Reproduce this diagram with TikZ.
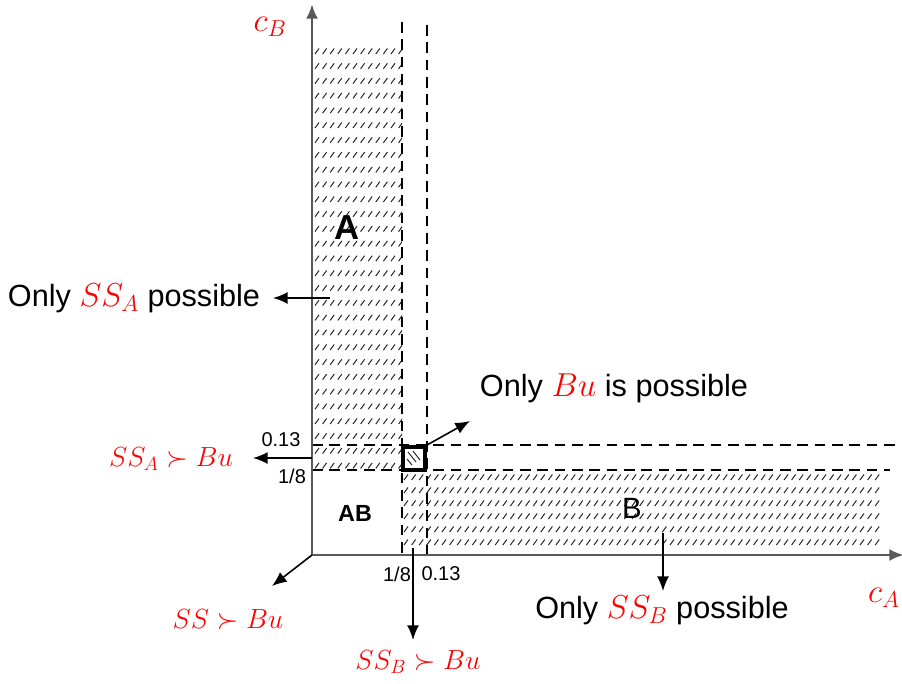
\documentclass[tikz,border=0pt]{standalone}
\usepackage{fontspec}
\setmainfont{Liberation Sans}
\usetikzlibrary{arrows.meta}

\begin{document}
\begin{tikzpicture}[
  x=0.75pt,
  y=-0.75pt,
  >=Latex,
  axis/.style={draw=black!65,line width=2.1pt,-{Latex[length=11pt,width=9pt]}},
  bound/.style={draw=black,line width=1.1pt,dash pattern=on 8pt off 5pt},
  arrow/.style={draw=black,line width=1.2pt,-{Latex[length=11pt,width=9pt]}},
  hatch/.style={draw=black!85,line width=0.75pt},
  txt/.style={font=\fontsize{23}{27}\selectfont,inner sep=1pt},
  mtxt/.style={text=red,font=\fontsize{22.5}{26}\selectfont,inner sep=1pt},
  axlbl/.style={text=red,font=\fontsize{26}{30}\selectfont,inner sep=1pt},
  tick/.style={font=\fontsize{15}{17}\selectfont,inner sep=1pt}
]
\useasboundingbox (0,0) rectangle (902,684);

% hatched region A (left column)
\begin{scope}
  \clip (313,45) rectangle (402,471);
  \foreach \r in {0,...,28}{
    \foreach \c in {0,...,11}{
      \draw[hatch] ({315+\c*7.6},{54+\r*14.8}) -- ++(4,-5.5);
    }
  }
\end{scope}

% hatched region B (bottom strip)
\begin{scope}
  \clip (402,472) rectangle (880,553);
  \foreach \r in {0,...,5}{
    \foreach \c in {0,...,62}{
      \draw[hatch] ({404+\c*7.6},{480+\r*13})  -- ++(4,-5.5);
    }
  }
\end{scope}

% thresholds
\draw[bound] (402,22) -- (402,555);
\draw[bound] (427,25) -- (427,555);
\draw[bound] (312,445) -- (895,445);
\draw[bound] (312,470) -- (890,470);

% axes
\coordinate (O) at (312,555);
\draw[axis] (O) -- (312,4) coordinate (ytip);
\draw[axis] (O) -- (904,555) coordinate (xtip);
\node[axlbl] (cB) at (270,27) {$c_B$};
\node[axlbl] (cA) at (884,598) {$c_A$};

% small square where only Bu is possible
\draw[draw=black,line width=3.6pt] (403,447) rectangle (425,470);
\draw[hatch] (408,452) -- (416,462);
\draw[hatch] (413,451) -- (420,460);
\draw[hatch] (407,459) -- (412,465);
\coordinate (sq) at (427,445);

% region names
\node[font=\fontsize{26}{30}\selectfont\bfseries] (regA) at (347,228) {A};
\node[font=\fontsize{17.5}{20}\selectfont\bfseries] (regAB) at (355,513) {AB};
\node[font=\fontsize{22}{26}\selectfont] (regB) at (632,508) {B};

% tick labels
\node[tick] (t13y) at (281,440) {0.13};
\node[tick] (t18y) at (292,476) {1/8};
\node[tick] (t18x) at (397,574) {1/8};
\node[tick] (t13x) at (441,574) {0.13};

% annotations
\node[txt] (onlySSA) at (134,298) {Only \textcolor{red}{$SS_A$} possible};
\coordinate (pA) at (330,298);
\draw[arrow] (pA) -- (273,298);

\node[txt] (onlyBu) at (614,388) {Only \textcolor{red}{$Bu$} is possible};
\draw[arrow] (sq) -- (470,421);

\node[mtxt] (SSAgt) at (171,459) {$SS_A\succ Bu$};
\coordinate (pAB) at (312,458);
\draw[arrow] (pAB) -- (253,458);

\node[mtxt] (SSgt) at (228,620) {$SS\succ Bu$};
\draw[arrow] (O) -- (272,586);

\node[mtxt] (SSBgt) at (418,662) {$SS_B\succ Bu$};
\coordinate (pB0) at (413,548);
\draw[arrow] (pB0) -- (413,640);

\node[txt] (onlySSB) at (662,610) {Only \textcolor{red}{$SS_B$} possible};
\coordinate (pB) at (663,533);
\draw[arrow] (pB) -- (663,591);

\end{tikzpicture}
\end{document}
